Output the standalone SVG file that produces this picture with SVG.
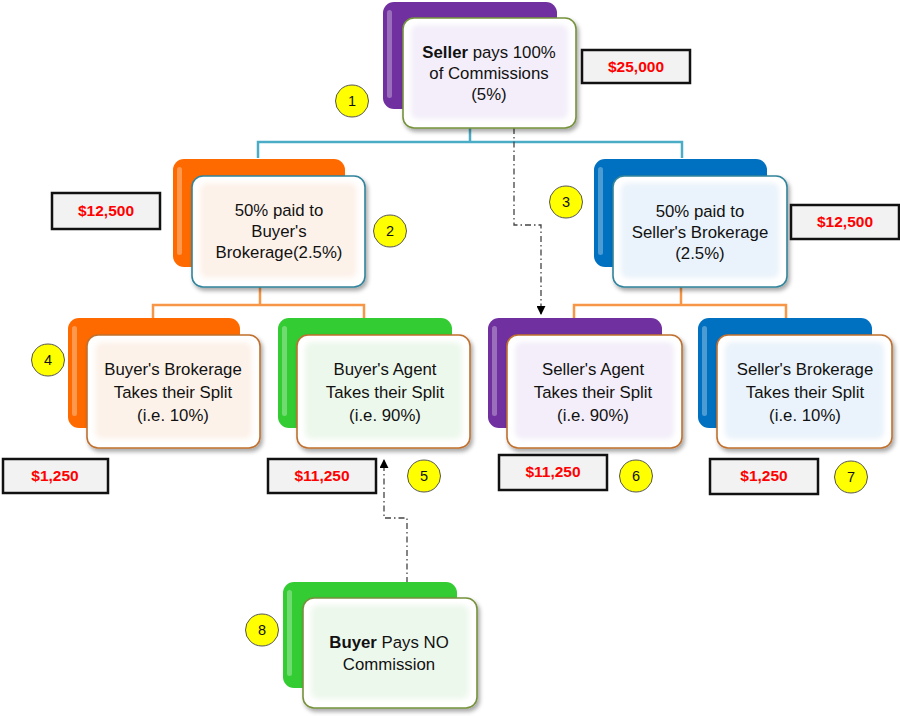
<svg xmlns="http://www.w3.org/2000/svg" width="900" height="716" viewBox="0 0 900 716">
<defs>
  <filter id="sh" x="-10%" y="-10%" width="130%" height="130%">
    <feDropShadow dx="2" dy="3" stdDeviation="2" flood-color="#000" flood-opacity="0.35"/>
  </filter>
  <filter id="soft" x="-10%" y="-10%" width="120%" height="120%">
    <feGaussianBlur stdDeviation="2.5"/>
  </filter>
  <marker id="arr" viewBox="0 0 10 10" refX="9" refY="5" markerWidth="9" markerHeight="9" orient="auto" markerUnits="userSpaceOnUse">
    <path d="M0,0 L10,5 L0,10 z" fill="#000"/>
  </marker>
  <style>
    .t{font-family:"Liberation Sans",Arial,sans-serif;font-size:16.8px;fill:#111;text-anchor:middle}
    .b{font-weight:bold}
    .money rect{fill:#f2f2f2;stroke:#111;stroke-width:2.5}
    .money text{font-family:"Liberation Sans",Arial,sans-serif;font-size:15.5px;font-weight:bold;fill:#ff0000;text-anchor:middle}
    .badge ellipse{fill:#ffff00;stroke:#555;stroke-width:1}
    .badge text{font-family:"Liberation Sans",Arial,sans-serif;font-size:14.5px;fill:#111;text-anchor:middle}
    .hl{fill:#fff;opacity:0.3}
    .front{fill:#fff;stroke-width:1.6}
    .conn-b{fill:none;stroke:#4bacc6;stroke-width:2.5}
    .conn-o{fill:none;stroke:#f79646;stroke-width:2.5}
    .dash{fill:none;stroke:#444;stroke-width:1.3;stroke-dasharray:6 3 1.5 3}
  </style>
</defs>
<rect width="900" height="716" fill="#fff"/>

<g id="connectors">
  <path class="conn-b" d="M470,128 V142 M258,158 V142 H682 V158"/>
  <path class="conn-o" d="M260,287 V305 M153,322 V305 H364 V322"/>
  <path class="conn-o" d="M681,287 V305 M574,322 V305 H786 V322"/>
  <path class="dash" d="M514,128 V225 H541 V314" marker-end="url(#arr)"/>
  <path class="dash" d="M407,583 V518 H384 V460" marker-end="url(#arr)"/>
</g>

<g id="node1">
  <rect x="383" y="2" width="174" height="107" rx="11" fill="#7030a0"/>
  <rect x="387" y="10" width="5" height="88" rx="2.5" class="hl"/>
  <rect class="front" x="403" y="18" width="173" height="110" rx="11" stroke="#76923c" filter="url(#sh)"/>
  <rect x="411" y="25" width="157" height="94" rx="7" fill="#f3eef9" filter="url(#soft)"/>
  <text class="t" x="489" y="58"><tspan class="b">Seller</tspan> pays 100%</text>
  <text class="t" x="489" y="79">of Commissions</text>
  <text class="t" x="489" y="100">(5%)</text>
</g>

<g id="node2">
  <rect x="173" y="159" width="172" height="108" rx="11" fill="#ff6a00"/>
  <rect x="177" y="167" width="5" height="88" rx="2.5" class="hl"/>
  <rect class="front" x="192" y="176" width="173" height="111" rx="11" stroke="#31849b" filter="url(#sh)"/>
  <rect x="200" y="183" width="157" height="95" rx="7" fill="#fdf2ea" filter="url(#soft)"/>
  <text class="t" x="279" y="216">50% paid to</text>
  <text class="t" x="279" y="237">Buyer's</text>
  <text class="t" x="279" y="258">Brokerage(2.5%)</text>
</g>

<g id="node3">
  <rect x="594" y="159" width="173" height="108" rx="11" fill="#0070c0"/>
  <rect x="598" y="167" width="5" height="88" rx="2.5" class="hl"/>
  <rect class="front" x="613" y="176" width="174" height="111" rx="11" stroke="#31849b" filter="url(#sh)"/>
  <rect x="621" y="183" width="158" height="95" rx="7" fill="#eaf3fb" filter="url(#soft)"/>
  <text class="t" x="700" y="217">50% paid to</text>
  <text class="t" x="700" y="238">Seller's Brokerage</text>
  <text class="t" x="700" y="259">(2.5%)</text>
</g>

<g id="node4">
  <rect x="68" y="318" width="172" height="110" rx="11" fill="#ff6a00"/>
  <rect x="72" y="326" width="5" height="90" rx="2.5" class="hl"/>
  <rect class="front" x="87" y="335" width="173" height="113" rx="11" stroke="#c0702e" filter="url(#sh)"/>
  <rect x="95" y="342" width="157" height="97" rx="7" fill="#fdf2ea" filter="url(#soft)"/>
  <text class="t" x="173" y="375">Buyer's Brokerage</text>
  <text class="t" x="173" y="398">Takes their Split</text>
  <text class="t" x="173" y="421">(i.e. 10%)</text>
</g>

<g id="node5">
  <rect x="278" y="318" width="174" height="110" rx="11" fill="#33cc33"/>
  <rect x="282" y="326" width="5" height="90" rx="2.5" class="hl"/>
  <rect class="front" x="297" y="335" width="173" height="113" rx="11" stroke="#c0702e" filter="url(#sh)"/>
  <rect x="305" y="342" width="157" height="97" rx="7" fill="#edf8ec" filter="url(#soft)"/>
  <text class="t" x="385" y="375">Buyer's Agent</text>
  <text class="t" x="385" y="398">Takes their Split</text>
  <text class="t" x="385" y="421">(i.e. 90%)</text>
</g>

<g id="node6">
  <rect x="488" y="318" width="174" height="110" rx="11" fill="#7030a0"/>
  <rect x="492" y="326" width="5" height="90" rx="2.5" class="hl"/>
  <rect class="front" x="507" y="335" width="175" height="113" rx="11" stroke="#c0702e" filter="url(#sh)"/>
  <rect x="515" y="342" width="159" height="97" rx="7" fill="#f3eef9" filter="url(#soft)"/>
  <text class="t" x="593" y="375">Seller's Agent</text>
  <text class="t" x="593" y="398">Takes their Split</text>
  <text class="t" x="593" y="421">(i.e. 90%)</text>
</g>

<g id="node7">
  <rect x="698" y="318" width="174" height="110" rx="11" fill="#0070c0"/>
  <rect x="702" y="326" width="5" height="90" rx="2.5" class="hl"/>
  <rect class="front" x="717" y="335" width="175" height="113" rx="11" stroke="#c0702e" filter="url(#sh)"/>
  <rect x="725" y="342" width="159" height="97" rx="7" fill="#eaf3fb" filter="url(#soft)"/>
  <text class="t" x="805" y="375">Seller's Brokerage</text>
  <text class="t" x="805" y="398">Takes their Split</text>
  <text class="t" x="805" y="421">(i.e. 10%)</text>
</g>

<g id="node8">
  <rect x="283" y="582" width="174" height="106" rx="11" fill="#33cc33"/>
  <rect x="287" y="590" width="5" height="86" rx="2.5" class="hl"/>
  <rect class="front" x="303" y="598" width="174" height="110" rx="11" stroke="#76923c" filter="url(#sh)"/>
  <rect x="311" y="605" width="158" height="94" rx="7" fill="#edf8ec" filter="url(#soft)"/>
  <text class="t" x="389" y="648"><tspan class="b">Buyer</tspan> Pays NO</text>
  <text class="t" x="389" y="670">Commission</text>
</g>

<g id="amounts">
  <g class="money" id="amt1"><rect x="582" y="50" width="108" height="33"/><text x="636" y="72">$25,000</text></g>
  <g class="money" id="amt2"><rect x="52" y="193" width="108" height="36"/><text x="106" y="216">$12,500</text></g>
  <g class="money" id="amt3"><rect x="791" y="205" width="108" height="34"/><text x="845" y="227">$12,500</text></g>
  <g class="money" id="amt4"><rect x="3" y="459" width="105" height="34"/><text x="55" y="481">$1,250</text></g>
  <g class="money" id="amt5"><rect x="268" y="459" width="108" height="34"/><text x="322" y="481">$11,250</text></g>
  <g class="money" id="amt6"><rect x="499" y="455" width="108" height="35"/><text x="553" y="477">$11,250</text></g>
  <g class="money" id="amt7"><rect x="710" y="459" width="108" height="35"/><text x="764" y="481">$1,250</text></g>
</g>

<g id="badges">
  <g class="badge" id="b1"><ellipse cx="352" cy="101" rx="16.5" ry="16"/><text x="352" y="106">1</text></g>
  <g class="badge" id="b2"><ellipse cx="390" cy="231" rx="16.5" ry="16"/><text x="390" y="236">2</text></g>
  <g class="badge" id="b3"><ellipse cx="566" cy="202" rx="16.5" ry="16"/><text x="566" y="207">3</text></g>
  <g class="badge" id="b4"><ellipse cx="48" cy="360" rx="16.5" ry="16"/><text x="48" y="365">4</text></g>
  <g class="badge" id="b5"><ellipse cx="424" cy="476" rx="16.5" ry="16"/><text x="424" y="481">5</text></g>
  <g class="badge" id="b6"><ellipse cx="636" cy="476" rx="16.5" ry="16"/><text x="636" y="481">6</text></g>
  <g class="badge" id="b7"><ellipse cx="851" cy="477" rx="16.5" ry="16"/><text x="851" y="482">7</text></g>
  <g class="badge" id="b8"><ellipse cx="262" cy="630" rx="16.5" ry="16"/><text x="262" y="635">8</text></g>
</g>
</svg>
